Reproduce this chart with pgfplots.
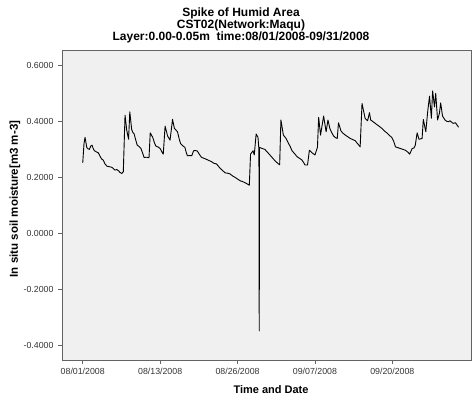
\documentclass[border=0pt]{standalone}
\usepackage{pgfplots}
\pgfplotsset{compat=1.18}
\usepackage{fontspec}
\setmainfont{Liberation Sans}
\definecolor{bgc}{RGB}{240,240,240}
\definecolor{framec}{RGB}{100,100,100}
\begin{document}
\begin{tikzpicture}[x=1pt,y=1pt]
\useasboundingbox (0,0) rectangle (473,398);
\begin{axis}[
  at={(62pt,38pt)}, anchor=south west,
  scale only axis, width=409pt, height=310pt,
  xmin=-3.35, xmax=62.7, ymin=-0.4525, ymax=0.655,
  axis background/.style={fill=bgc},
  axis line style={framec, line width=0.8pt},
  tick pos=left, tick align=outside,
  major tick length=4pt,
  tick style={framec, line width=0.8pt},
  xtick={0,12.5,25,37.5,50},
  xticklabels={08/01/2008,08/13/2008,08/26/2008,09/07/2008,09/20/2008},
  ytick={-0.4,-0.2,0,0.2,0.4,0.6},
  ticklabel style={font=\fontsize{8.8}{10}\selectfont, text=black!80},
  xticklabel style={yshift=-1pt},
  yticklabel style={xshift=-1pt, /pgf/number format/.cd, fixed, fixed zerofill, precision=4, assume math mode=true},
  minor tick num=0,
]
\addplot[black, line width=0.9pt, line join=round] coordinates {
(0.0,0.252) (0.2,0.320) (0.37,0.343) (0.65,0.307) (0.85,0.302) (1.07,0.300) (1.3,0.312) (1.5,0.315)
(1.7,0.302) (1.9,0.295) (2.2,0.291) (2.5,0.288) (2.8,0.275) (3.07,0.265) (3.3,0.262) (3.6,0.248) (3.9,0.240)
(4.3,0.238) (4.7,0.236) (5.0,0.230) (5.2,0.226) (5.5,0.228) (5.75,0.224) (6.0,0.218) (6.3,0.214) (6.55,0.220)
(6.83,0.422) (7.1,0.369) (7.4,0.336) (7.6,0.434) (7.9,0.371) (8.1,0.360) (8.3,0.355) (8.6,0.330) (8.8,0.315)
(9.1,0.310) (9.4,0.303) (9.7,0.285) (9.9,0.271) (10.3,0.272) (10.7,0.270) (10.9,0.359) (11.3,0.343) (11.6,0.322)
(11.8,0.312) (12.2,0.308) (12.5,0.303) (12.8,0.290) (13.0,0.283) (13.3,0.383) (13.7,0.348) (14.1,0.333)
(14.5,0.407) (14.8,0.375) (15.3,0.363) (15.6,0.335) (15.8,0.321) (16.2,0.312) (16.5,0.307) (16.7,0.290)
(16.9,0.277) (17.3,0.278) (17.6,0.277) (17.9,0.295) (18.2,0.296) (18.5,0.294) (18.9,0.280) (19.2,0.271)
(19.6,0.268) (20.0,0.264) (20.4,0.260) (20.8,0.256) (21.2,0.250) (21.6,0.248) (21.9,0.240) (22.2,0.232)
(22.6,0.224) (23.0,0.216) (23.4,0.215) (23.8,0.212) (24.2,0.205) (24.6,0.200) (25.0,0.194) (25.4,0.188)
(25.8,0.185) (26.2,0.181) (26.6,0.176) (26.9,0.172) (27.1,0.283) (27.5,0.295) (27.7,0.280) (28.0,0.355)
(28.3,0.343) (28.45,0.300) (28.5,-0.349) (28.55,0.307) (29.0,0.303) (29.4,0.300) (29.9,0.288) (30.3,0.278)
(30.7,0.268) (31.1,0.258) (31.5,0.250) (31.8,0.245) (32.0,0.405) (32.4,0.351) (32.8,0.340) (33.1,0.327)
(33.5,0.310) (33.8,0.295) (34.2,0.285) (34.6,0.274) (35.0,0.268) (35.4,0.262) (35.7,0.252) (35.9,0.244)
(36.3,0.244) (36.6,0.297) (37.0,0.288) (37.5,0.280) (37.9,0.307) (38.1,0.414) (38.4,0.351) (38.9,0.419)
(39.3,0.363) (39.6,0.405) (39.9,0.375) (40.2,0.360) (40.5,0.348) (40.8,0.342) (41.1,0.339) (41.3,0.395)
(41.7,0.366) (42.0,0.358) (42.4,0.351) (42.8,0.345) (43.2,0.339) (43.6,0.335) (44.0,0.331) (44.4,0.320)
(44.8,0.309) (45.1,0.464) (45.6,0.411) (46.0,0.402) (46.3,0.431) (46.5,0.405) (47.0,0.397) (47.4,0.390)
(47.9,0.382) (48.3,0.375) (48.7,0.366) (49.1,0.359) (49.5,0.350) (49.9,0.343) (50.2,0.330) (50.5,0.309)
(50.9,0.306) (51.3,0.303) (51.7,0.300) (52.1,0.297) (52.5,0.290) (52.8,0.283) (53.2,0.303) (53.5,0.305)
(53.7,0.315) (54.0,0.359) (54.3,0.336) (54.8,0.339) (55.0,0.407) (55.4,0.363) (55.7,0.434) (56.0,0.490)
(56.3,0.411) (56.5,0.509) (56.8,0.452) (57.0,0.500) (57.3,0.405) (57.6,0.429) (57.8,0.466) (58.1,0.419)
(58.5,0.405) (58.8,0.400) (59.1,0.399) (59.3,0.402) (59.8,0.393) (60.2,0.395) (60.5,0.385) (60.7,0.379)
};
\end{axis}
\node[font=\bfseries\fontsize{12}{14}\selectfont, anchor=center] at (241,385) {Spike of Humid Area};
\node[font=\bfseries\fontsize{12}{14}\selectfont, anchor=center] at (241,373) {CST02(Network:Maqu)};
\node[font=\bfseries\fontsize{12}{14}\selectfont, anchor=center] at (241,361) {Layer:0.00-0.05m\ \ time:08/01/2008-09/31/2008};
\node[font=\bfseries\fontsize{11}{13}\selectfont, anchor=center] at (271,8) {Time and Date};
\node[font=\bfseries\fontsize{11.5}{13}\selectfont, anchor=center, rotate=90] at (15,199) {In situ soil moisture[m3 m-3]};
\end{tikzpicture}
\end{document}
